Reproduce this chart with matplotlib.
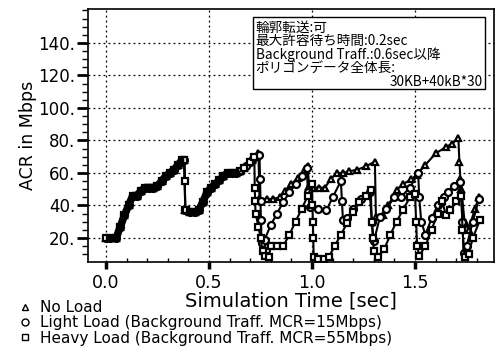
import matplotlib
matplotlib.use('Agg')
import matplotlib.pyplot as plt
from matplotlib.lines import Line2D
from matplotlib.patches import Rectangle
from matplotlib.ticker import MultipleLocator, FuncFormatter

# common start (same for all three loads)
t_common = [0.00, 0.02, 0.05, 0.07, 0.09, 0.11, 0.13, 0.15, 0.17, 0.19, 0.21, 0.23, 0.25, 0.27,
            0.29, 0.31, 0.33, 0.35, 0.37, 0.38]
y_common = [20, 20, 20, 27, 34, 40, 46, 46, 49, 51, 51, 51, 52, 55,
            58, 60, 62, 65, 68, 68]
t_common2 = [0.385, 0.39, 0.41, 0.43, 0.45, 0.47, 0.49, 0.51, 0.53, 0.55, 0.57, 0.59, 0.61, 0.63, 0.65]
y_common2 = [37, 37, 36, 36, 37, 42, 48, 51, 53, 55.5, 58, 60, 60, 60, 61]

# after background traffic starts
t_noload = [0.67, 0.69, 0.71, 0.73, 0.74, 0.745, 0.78, 0.81, 0.845, 0.87, 0.90, 0.93, 0.96, 0.98,
            0.985, 1.005, 1.035, 1.063, 1.09, 1.12, 1.15, 1.18, 1.22, 1.26, 1.305,
            1.31, 1.345, 1.37, 1.41, 1.44, 1.48, 1.51, 1.55, 1.60, 1.65, 1.68, 1.71,
            1.715, 1.72, 1.725, 1.74, 1.76, 1.79, 1.81]
y_noload = [63, 66, 68, 70, 72, 44, 44, 44, 45, 49, 53, 57, 61, 64,
            52, 51, 51, 51, 56, 60, 60, 61, 62, 64, 67,
            33, 34, 40, 49.5, 53, 56, 59, 65, 72, 76, 78, 81.5,
            67, 56, 50, 30, 25, 38, 45]

t_light = [0.68, 0.71, 0.745, 0.748, 0.75, 0.752, 0.755, 0.77, 0.80, 0.83, 0.86, 0.89, 0.92, 0.95, 0.975,
           0.98, 0.99, 1.03, 1.07, 1.10, 1.14, 1.145, 1.15, 1.17, 1.20, 1.24, 1.28,
           1.29, 1.30, 1.33, 1.36, 1.40, 1.43, 1.475, 1.515,
           1.52, 1.53, 1.55, 1.58, 1.61, 1.64, 1.66, 1.69, 1.72,
           1.73, 1.735, 1.75, 1.78, 1.81]
y_light = [64, 68, 71, 56, 43, 31, 17, 19, 28, 35, 42, 48, 53, 58, 63,
           48, 39, 38, 37, 45, 55, 43, 31, 32, 38, 44, 48,
           30, 18, 33, 38, 45, 45, 51, 60,
           45, 30, 22, 32, 40, 45, 48, 52, 54.5,
           30, 11, 15, 30, 44]

t_heavy = [0.67, 0.70, 0.72, 0.722, 0.724, 0.726, 0.74, 0.75, 0.76, 0.77, 0.79, 0.80, 0.83, 0.86,
           0.89, 0.92, 0.95, 0.98, 1.00, 1.002, 1.004, 1.006, 1.008, 1.03, 1.06, 1.08,
           1.11, 1.14, 1.17, 1.20, 1.23, 1.26, 1.285, 1.29, 1.295, 1.30, 1.32,
           1.35, 1.38, 1.41, 1.44, 1.475, 1.50, 1.505, 1.51, 1.52,
           1.55, 1.58, 1.61, 1.63, 1.65, 1.67, 1.70, 1.725, 1.73, 1.74, 1.76, 1.78, 1.815]
y_heavy = [63, 67, 70, 51, 43, 35, 27, 20, 12, 9, 8, 15, 15, 15,
           22, 30, 38, 46, 53, 40, 30, 20, 8, 7, 7, 8,
           15, 22, 29, 36, 42, 46, 49.5, 30, 20, 12, 8,
           13, 22, 30, 37, 45, 47, 30, 15, 9,
           15, 25, 35, 43, 34, 37, 43, 46, 25, 8, 10, 20, 31]

y_ticks = [20, 40, 60, 80, 100, 120, 140]
x_ticks = [0.0, 0.5, 1.0, 1.5]
legend_labels = ['No Load',
                 'Light Load (Background Traff. MCR=15Mbps)',
                 'Heavy Load (Background Traff. MCR=55Mbps)']
info_lines = ['輪郭転送:可', '最大許容待ち時間:0.2sec', 'Background Traff.:0.6sec以降',
              'ポリゴンデータ全体長:']
info_last = '30KB+40kB*30'

plt.rcParams['font.family'] = ['DejaVu Sans']

fig = plt.figure(figsize=(4.98, 3.47), dpi=100)
ax = fig.add_axes([0.1767, 0.245, 0.8153, 0.729])

sty = dict(color='black', lw=1.5, ms=5, mfc='white', mec='black', mew=1.6)
series = [
    ('^', t_common + t_common2 + t_noload, y_common + y_common2 + y_noload),
    ('o', t_common + t_common2 + t_light, y_common + y_common2 + y_light),
    ('s', t_common + [0.383] + t_common2 + t_heavy, y_common + [55] + y_common2 + y_heavy),
]
for m, t, y in series:
    ax.plot(t, y, marker=m, **sty, zorder=3)
# the shared part is drawn over and over in the original, so it reads as a solid band
ax.plot(t_common, y_common, color='black', lw=5.5, solid_capstyle='butt', zorder=3.5)
ax.plot(t_common2[1:], y_common2[1:], color='black', lw=5.5, solid_capstyle='butt', zorder=3.5)

ax.set_xlim(-0.087, 1.883)
ax.set_ylim(5.2, 160.9)
ax.set_xticks(x_ticks)
ax.set_yticks(y_ticks)
ax.xaxis.set_minor_locator(MultipleLocator(0.1))
ax.yaxis.set_minor_locator(MultipleLocator(5))
ax.yaxis.set_major_formatter(FuncFormatter(lambda v, p: f'{int(v)}.'))
ax.xaxis.set_major_formatter(FuncFormatter(lambda v, p: f'{v:.1f}'))
ax.tick_params(axis='y', which='major', direction='out', length=8, width=2, labelsize=12, pad=1)
ax.tick_params(axis='y', which='minor', direction='out', length=4, width=1)
ax.tick_params(axis='x', which='major', direction='out', length=5, width=2.5, labelsize=12.5, pad=4)
ax.tick_params(axis='x', which='minor', direction='in', length=3, width=1)
ax.grid(which='major', axis='both', linestyle=(0, (1.5, 2.5)), color='black', lw=0.9)
for s in ax.spines.values():
    s.set_linewidth(1.2)

ax.set_xlabel('Simulation Time [sec]', fontsize=14, labelpad=-1)
ax.set_ylabel('ACR in Mbps', fontsize=12.5, labelpad=1)

# info box
ax.add_patch(Rectangle((0.406, 0.684), 0.572, 0.284, transform=ax.transAxes,
                       facecolor='white', edgecolor='black', lw=1.0, zorder=4))
jp = ['Noto Sans CJK JP', 'DejaVu Sans']
for i, line in enumerate(info_lines):
    ax.text(0.413, 0.927 - i * 0.0535, line, transform=ax.transAxes, fontsize=9.8,
            family=jp, va='center', ha='left', zorder=5)
ax.text(0.972, 0.713, info_last, transform=ax.transAxes, fontsize=9.8,
        family=jp, va='center', ha='right', zorder=5)

handles = [Line2D([], [], marker=m, ls='none', ms=5, mfc='white', mec='black', mew=1)
           for m in ['^', 'o', 's']]
fig.legend(handles, legend_labels, loc='upper left', bbox_to_anchor=(0.035, 0.135),
           frameon=False, fontsize=11, handlelength=1.0, handletextpad=0.5,
           labelspacing=0.02, borderpad=0, borderaxespad=0)

fig.savefig('out.png', dpi=100)
